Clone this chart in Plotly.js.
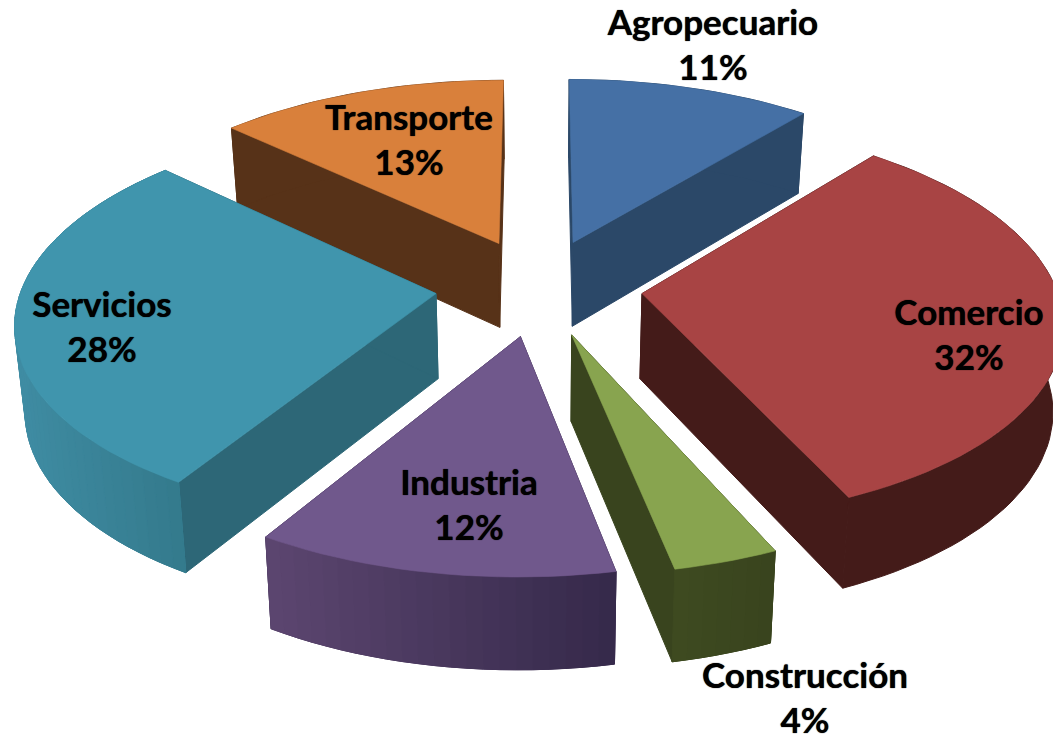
<!DOCTYPE html>
<html>
<head>
<meta charset="utf-8">
<script src="https://cdn.plot.ly/plotly-3.0.1.min.js"></script>
<style>html,body{margin:0;padding:0;background:#fff}#chart{width:1053px;height:737px}</style>
</head>
<body>
<div id="chart"></div>
<script>
// Data: slice sizes; the labels show them rounded
const categories = ["Agropecuario", "Comercio", "Construcción", "Industria", "Servicios", "Transporte"];
const shares = [11, 32.3, 3.5, 11.95, 28.2, 13.05];

// Styling
const topColors  = ["#4570A5", "#A84444", "#88A44F", "#70588C", "#4095AD", "#D9803B"];
const wallColors = ["#2B4868", "#441B19", "#39441E", "#3C2C52", "#2D6777", "#573218"];
const rimStart   = ["#2B4868", "#441B19", "#39441E", "#35294A", "#347A8C", "#573218"];
const rimEnd     = ["#2B4868", "#441B19", "#3E4A20", "#5C4670", "#3F8CA3", "#573218"];
const labelX = [713, 969, 805, 469, 102, 409];
const labelY = [26, 316, 679, 486, 308, 121];
const paintOrder = [5, 0, 4, 1, 3, 2];

// View geometry
const W = 1053, H = 737, CX = 539, CY = 287;
const RX = 414, RY = 195, PERSP = 0.13, DEPTH = 85;
const EXPLODE = 0.25, CONVERGE = 0.02, STEP = 2, LABEL_GAP = 45;

const rad = d => d * Math.PI / 180;
let cum = 0;
const wedges = shares.map(v => {
  const a0 = cum * 3.6; cum += v; const a1 = cum * 3.6;
  const mid = rad((a0 + a1) / 2);
  return { a0, a1, ox: EXPLODE * Math.sin(mid), oy: EXPLODE * Math.cos(mid) };
});
function project(gx, gy) {
  const p = 1 / (1 + PERSP * gy);
  return { x: CX + RX * gx * p, y: CY - RY * gy * p, p };
}
function rim(w, deg) {
  const t = rad(deg);
  return project(w.ox + Math.sin(t), w.oy + Math.cos(t));
}
function down(pt) {
  return { x: pt.x + (CX - pt.x) * CONVERGE, y: pt.y + DEPTH * Math.sqrt(pt.p), p: pt.p };
}
function poly(pts, color, name, width) {
  return { type: "scatter", mode: "lines", fill: "toself", fillcolor: color,
    x: pts.map(p => p.x), y: pts.map(p => p.y),
    line: { color: color, width: width === undefined ? 0.6 : width }, name: name, hoverinfo: "name", showlegend: false };
}
function mix(c1, c2, t) {
  const n = c => [1, 3, 5].map(i => parseInt(c.substr(i, 2), 16));
  const a = n(c1), b = n(c2);
  return "rgb(" + a.map((v, i) => Math.round(v + (b[i] - v) * t)).join(",") + ")";
}

const traces = [];
paintOrder.forEach(i => {
  const w = wedges[i], name = categories[i] + " " + Math.round(shares[i]) + "%";
  const apex = project(w.ox, w.oy);
  const arc = [];
  const n = Math.max(2, Math.ceil((w.a1 - w.a0) / STEP));
  for (let k = 0; k <= n; k++) arc.push(rim(w, w.a0 + (w.a1 - w.a0) * k / n));
  // radial walls
  [arc[0], arc[n]].forEach(e => traces.push(poly([apex, e, down(e), down(apex), apex], wallColors[i], name, 1)));
  // outer wall: solid base, then shading strips where the wall has a gradient
  traces.push(poly([...arc, ...arc.slice().reverse().map(down), arc[0]], mix(rimStart[i], rimEnd[i], 0.5), name, 1));
  if (rimStart[i] !== rimEnd[i]) {
    const xs = arc.map(p => p.x), lo = Math.min(...xs), hi = Math.max(...xs);
    for (let k = 0; k < n; k++) {
      const a = arc[k], b = arc[k + 1];
      const t = ((a.x + b.x) / 2 - lo) / Math.max(1, hi - lo);
      traces.push(poly([a, b, down(b), down(a), a], mix(rimEnd[i], rimStart[i], t), name, 1));
    }
  }
  // top face
  traces.push(poly([apex, ...arc, apex], topColors[i], name));
});

const font = { family: "Lato, 'Open Sans', sans-serif", size: 35, color: "#000", weight: 700, shadow: "0 0 1px #000" };
traces.push({ type: "scatter", mode: "text", x: labelX, y: labelY, text: categories,
  textposition: "middle center", textfont: font, hoverinfo: "skip", showlegend: false, cliponaxis: false });
traces.push({ type: "scatter", mode: "text", x: labelX, y: labelY.map(v => v + LABEL_GAP),
  text: shares.map(v => Math.round(v) + "%"), textposition: "middle center", textfont: font,
  hoverinfo: "skip", showlegend: false, cliponaxis: false });

const axis = { visible: false, fixedrange: true };
Plotly.newPlot("chart", traces, {
  width: W, height: H, margin: { l: 0, r: 0, t: 0, b: 0 },
  paper_bgcolor: "#fff", plot_bgcolor: "#fff", showlegend: false,
  xaxis: Object.assign({ range: [0, W] }, axis),
  yaxis: Object.assign({ range: [H, 0] }, axis)
}, { displayModeBar: false, staticPlot: true });
</script>
</body>
</html>
